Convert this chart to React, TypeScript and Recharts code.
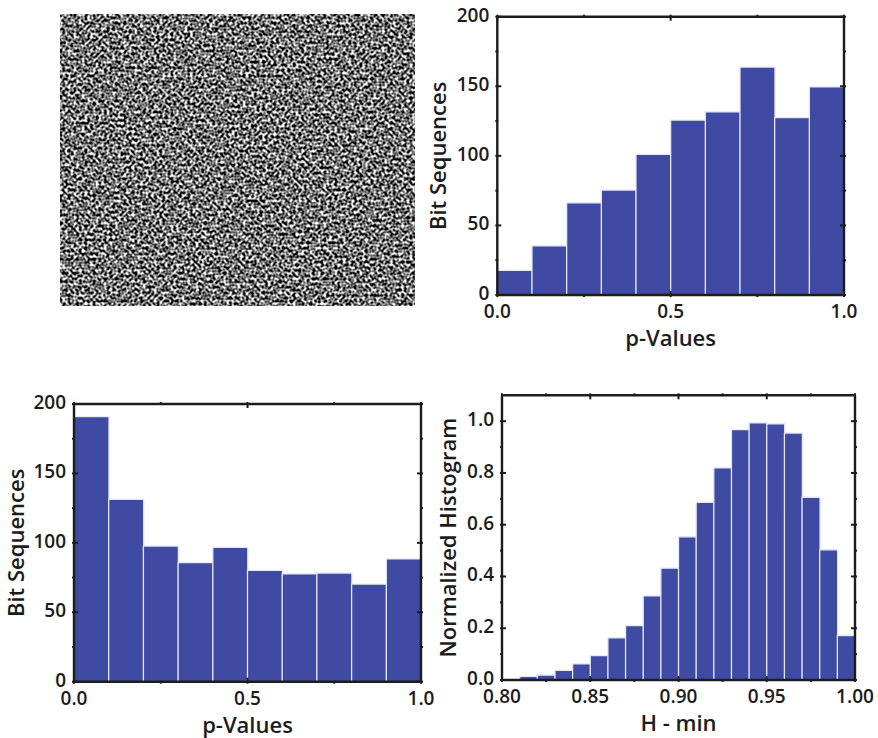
import { Bar, BarChart, XAxis, YAxis } from "recharts";

// bin centres
const pBins = [0.05, 0.15, 0.25, 0.35, 0.45, 0.55, 0.65, 0.75, 0.85, 0.95];
const hBins = [
  0.805, 0.815, 0.825, 0.835, 0.845, 0.855, 0.865, 0.875, 0.885, 0.895,
  0.905, 0.915, 0.925, 0.935, 0.945, 0.955, 0.965, 0.975, 0.985, 0.995,
];

const topRightCounts = [17.7, 35.4, 66.3, 75.4, 101, 125.7, 131.7, 163.8, 127.4, 149.5];
const bottomLeftCounts = [190.9, 131.3, 97.7, 85.7, 96.8, 80.2, 77.6, 78.3, 70.3, 88.4];
const hMinValues = [
  0, 0.014, 0.019, 0.037, 0.062, 0.094, 0.163, 0.21, 0.325, 0.432,
  0.553, 0.686, 0.82, 0.967, 0.994, 0.99, 0.954, 0.706, 0.503, 0.172,
];

const pTicks = [0, 0.25, 0.5, 0.75, 1];
const pLabels = [0, 0.5, 1];
const countTicks = [0, 25, 50, 75, 100, 125, 150, 175, 200];
const countLabels = [0, 50, 100, 150, 200];
const hTicks = [0.8, 0.825, 0.85, 0.875, 0.9, 0.925, 0.95, 0.975, 1];
const hLabels = [0.8, 0.85, 0.9, 0.95, 1];
const normTicks = [0, 0.1, 0.2, 0.3, 0.4, 0.5, 0.6, 0.7, 0.8, 0.9, 1];
const normLabels = [0, 0.2, 0.4, 0.6, 0.8, 1];

const FONT = "'Open Sans', sans-serif";
const INK = "#1c1c1c";
const TICK_SIZE = 19;
const LABEL_SIZE = 22;

type Side = "bottom" | "top" | "left" | "right";

function makeTick(side: Side, labels: number[], digits: number) {
  return function Tick(props: any) {
    const { x, y, payload } = props;
    const major = labels.includes(payload.value);
    const len = major ? 6 : 3;
    const dx = side === "left" ? len : side === "right" ? -len : 0;
    const dy = side === "bottom" ? -len : side === "top" ? len : 0;
    return (
      <g>
        <line x1={x} y1={y} x2={x + dx} y2={y + dy} stroke={INK} strokeWidth={2} />
        {major && side === "bottom" && (
          <text x={x} y={y + 21} textAnchor="middle" fontSize={TICK_SIZE} fontFamily={FONT} fontWeight={600} fill={INK}>
            {payload.value.toFixed(digits)}
          </text>
        )}
        {major && side === "left" && (
          <text x={x - 6} y={y + 5} textAnchor="end" fontSize={TICK_SIZE} fontFamily={FONT} fontWeight={600} fill={INK}>
            {payload.value.toFixed(digits)}
          </text>
        )}
      </g>
    );
  };
}

interface PanelProps {
  box: [number, number, number, number];
  plot: [number, number, number, number];
  bins: number[];
  values: number[];
  xDomain: [number, number];
  yDomain: [number, number];
  xTicks: number[];
  xLabels: number[];
  xDigits: number;
  yTicks: number[];
  yLabels: number[];
  yDigits: number;
  xTitle: string;
  yTitle: string;
  xTitleOffset: number;
  yTitleOffset: number;
}

function Panel(p: PanelProps) {
  const [bx, by, bw, bh] = p.box;
  const [pl, pt, pr, pb] = p.plot;
  const data = p.bins.map((bin, i) => ({ bin, value: p.values[i] }));
  const axisLine = { stroke: INK, strokeWidth: 2.4 };
  return (
    <div style={{ position: "absolute", left: bx, top: by }}>
      <BarChart
        width={bw}
        height={bh}
        data={data}
        barCategoryGap={0}
        barGap={0}
        margin={{ top: pt - by - 1, right: bx + bw - pr - 1, bottom: 0, left: 0 }}
      >
        <Bar dataKey="value" fill="#3f4aa3" stroke="#e6e8f6" strokeWidth={1.3} isAnimationActive={false} />
        <XAxis
          dataKey="bin"
          type="number"
          domain={p.xDomain}
          ticks={p.xTicks}
          interval={0}
          height={by + bh - pb}
          tickSize={0}
          tickLine={false}
          axisLine={axisLine}
          allowDataOverflow
          zIndex={600}
          tick={makeTick("bottom", p.xLabels, p.xDigits)}
          label={{
            value: p.xTitle,
            position: "insideBottom",
            offset: p.xTitleOffset,
            style: { fontFamily: FONT, fontSize: LABEL_SIZE, fontWeight: 600, fill: INK },
          }}
        />
        <XAxis
          xAxisId="frameTop"
          dataKey="bin"
          orientation="top"
          type="number"
          domain={p.xDomain}
          ticks={p.xTicks}
          interval={0}
          height={1}
          tickSize={0}
          tickLine={false}
          axisLine={axisLine}
          allowDataOverflow
          zIndex={600}
          tick={makeTick("top", p.xLabels, p.xDigits)}
        />
        <YAxis
          type="number"
          domain={p.yDomain}
          ticks={p.yTicks}
          interval={0}
          width={pl - bx}
          tickSize={0}
          tickLine={false}
          axisLine={axisLine}
          allowDataOverflow
          zIndex={600}
          tick={makeTick("left", p.yLabels, p.yDigits)}
          label={{
            value: p.yTitle,
            angle: -90,
            position: "insideLeft",
            offset: p.yTitleOffset,
            style: { textAnchor: "middle", fontFamily: FONT, fontSize: LABEL_SIZE, fontWeight: 600, fill: INK },
          }}
        />
        <YAxis
          yAxisId="frameRight"
          dataKey="value"
          orientation="right"
          type="number"
          domain={p.yDomain}
          ticks={p.yTicks}
          interval={0}
          width={1}
          tickSize={0}
          tickLine={false}
          axisLine={axisLine}
          allowDataOverflow
          zIndex={600}
          tick={makeTick("right", p.yLabels, p.yDigits)}
        />
      </BarChart>
    </div>
  );
}

// the bit map in the top left is a picture, not a series
function NoiseImage() {
  return (
    <svg width={355} height={292} style={{ position: "absolute", left: 60, top: 14 }}>
      <filter id="bitmap" x="0" y="0" width="100%" height="100%" colorInterpolationFilters="sRGB">
        <feTurbulence type="fractalNoise" baseFrequency="0.36" numOctaves={1} seed={7} />
        <feColorMatrix
          type="matrix"
          values="2.8 0 0 0 -0.95  2.8 0 0 0 -0.95  2.8 0 0 0 -0.95  0 0 0 0 1"
        />
        <feGaussianBlur stdDeviation="0.5" />
      </filter>
      <rect width={355} height={292} filter="url(#bitmap)" />
    </svg>
  );
}

export default function App() {
  return (
    <div style={{ position: "absolute", left: 0, top: 0, width: 878, height: 738, background: "#fff", overflow: "hidden" }}>
      <NoiseImage />
      <Panel
        box={[424, 0, 454, 360]}
        plot={[497.3, 16.7, 844, 295]}
        bins={pBins}
        values={topRightCounts}
        xDomain={[0, 1]}
        yDomain={[0, 200]}
        xTicks={pTicks}
        xLabels={pLabels}
        xDigits={1}
        yTicks={countTicks}
        yLabels={countLabels}
        yDigits={0}
        xTitle="p-Values"
        yTitle="Bit Sequences"
        xTitleOffset={14.3}
        yTitleOffset={14.5}
      />
      <Panel
        box={[0, 380, 440, 358]}
        plot={[74, 404, 421, 681.7]}
        bins={pBins}
        values={bottomLeftCounts}
        xDomain={[0, 1]}
        yDomain={[0, 200]}
        xTicks={pTicks}
        xLabels={pLabels}
        xDigits={1}
        yTicks={countTicks}
        yLabels={countLabels}
        yDigits={0}
        xTitle="p-Values"
        yTitle="Bit Sequences"
        xTitleOffset={5}
        yTitleOffset={16}
      />
      <Panel
        box={[424, 380, 454, 358]}
        plot={[502, 395.3, 855, 680]}
        bins={hBins}
        values={hMinValues}
        xDomain={[0.8, 1]}
        yDomain={[0, 1.1]}
        xTicks={hTicks}
        xLabels={hLabels}
        xDigits={2}
        yTicks={normTicks}
        yLabels={normLabels}
        yDigits={1}
        xTitle="H - min"
        yTitle="Normalized Histogram"
        xTitleOffset={7.3}
        yTitleOffset={24}
      />
    </div>
  );
}
